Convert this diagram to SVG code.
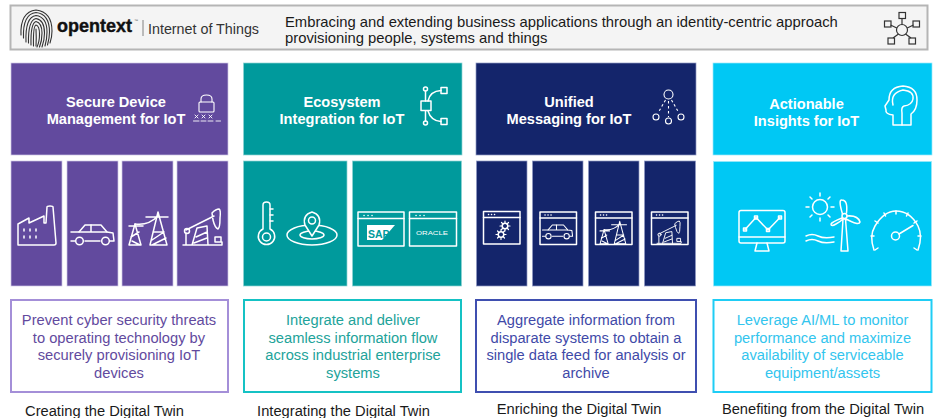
<svg xmlns="http://www.w3.org/2000/svg" xmlns:xlink="http://www.w3.org/1999/xlink" width="937" height="418" viewBox="0 0 937 418">
<style>
text{font-family:"Liberation Sans",Arial,sans-serif}
.t{font-size:14.6px;font-weight:700;fill:#fff;text-anchor:middle}
.d{font-size:14.7px;text-anchor:middle}
.c{font-size:14.7px;fill:#1a1a1a;text-anchor:middle}
.h{font-size:14.8px;fill:#1a1a1a}
.i{fill:none;stroke:#fff;stroke-width:1.5;stroke-linecap:round;stroke-linejoin:round}
.k{fill:none;stroke:#333;stroke-width:1.2}
.fp{fill:none;stroke:#333;stroke-width:1.1;stroke-linecap:round}
.p{fill:#624a9e;stroke:#cfc7e6;stroke-width:.7}
.e{fill:#009a9c;stroke:#8fd3d3;stroke-width:.7}
.n{fill:#14256b;stroke:#8f99c4;stroke-width:.7}
.y{fill:#00c8f4;stroke:#9ae9fa;stroke-width:.7}
.b{fill:#fff;stroke-width:2}
</style>
<defs>
<g id="factory"><path class="i" d="M18 245V224L29 218V223L44 216V223H46L47 207Q47 206 50 206Q53 206 53 207L56 243Q56 245 54 245Z"/><path class="i" d="M24 229v2M30 229v2M36 229v2M24 236v2M30 236v2M36 236v2"/></g>
<g id="car"><path class="i" d="M71 232H79L85 225H101L107 232L113 233L114 241H110M100 241H85M75 241H71Z"/><path class="i" d="M91 225V232M79 232H107"/><circle class="i" cx="79.500" cy="241" r="3.800"/><circle class="i" cx="105.500" cy="241" r="3.800"/></g>
<g id="towers"><path class="i" d="M129 245L135 224L141 245ZM131 237L139 232M132 241L140 245M150 245L158 212L167 245ZM153 232H164M152 240L164 232M152 245L166 238"/><path class="i" d="M129 226H143M146 217H168M135 224Q148 226 158 216"/></g>
<g id="pump"><path class="i" d="M183 245H222V242H215V237H221V242M186 245V233M186 230L214 216M212 213Q216 209 219 209Q221 210 220 218Q220 228 218 229Q215 228 213 220ZM192 245L197 228L207 226L208 245M196 237L207 232M194 243L207 238"/><circle class="i" cx="187" cy="231" r="2.500"/></g>
<g id="win"><rect class="i" width="36.500" height="32.500"/><path class="i" d="M0 6H36.500M5 3h.1M8 3h.1M11 3h.1"/></g>
<g id="gear"><circle class="i" r="2.800"/><path class="i" d="M0 -5V-3M0 5V3M-5 0H-3M5 0H3M-3.500 -3.500L-2 -2M3.500 3.500L2 2M-3.500 3.500L-2 2M3.500 -3.500L2 -2" style="stroke-width:1.2"/></g>
</defs>

<g id="header">
<rect x="10.500" y="5.500" width="917" height="44" fill="#f4f4f4" stroke="#b5b5b5" stroke-width="2"/>
<g id="fingerprint">
<path class="fp" d="M21 35Q20 12 36 10Q52 12 52 31Q52 37 50 43"/>
<path class="fp" d="M23.500 38Q22.500 14 36 12.500Q49.500 14 49.500 32Q49.500 38 47.500 45"/>
<path class="fp" d="M26 42Q25 17 36 15.500Q47 17 47 32Q47 39 45 46"/>
<path class="fp" d="M28.500 43Q28 20 36 18.500Q44.500 20 44.500 33Q44.500 40 42 47"/>
<path class="fp" d="M31 45Q30.500 23 36 21.500Q42 23 42 33Q42 41 39.500 47"/>
<path class="fp" d="M33.500 46Q33 26 36 25Q39.500 26 39.500 34Q39.500 42 37 47"/>
<path class="fp" d="M36 46Q36.500 38 36 29"/>
</g>
<text x="57" y="32" font-size="18" font-weight="700" fill="#111" stroke="#111" stroke-width=".4">opentext</text>
<text x="134" y="22" font-size="4" fill="#555">™</text>
<path d="M143 20V36" stroke="#666" stroke-width=".8"/>
<text x="148" y="34" font-size="14" fill="#333" textLength="111" lengthAdjust="spacingAndGlyphs">Internet of Things</text>
<text class="h" x="285" y="26.500">Embracing and extending business applications through an identity-centric approach</text>
<text class="h" x="285" y="43">provisioning people, systems and things</text>
<g id="network-icon">
<circle class="k" cx="902" cy="30" r="5.500"/>
<path class="k" d="M902 18.500V24.500M890.500 25L896.800 28M913.500 25L907.200 28M893 38L898.500 34M911 38L905.500 34"/>
<rect class="k" x="899" y="12.500" width="6.500" height="6"/><rect class="k" x="884.500" y="21" width="6.500" height="6"/><rect class="k" x="913" y="21" width="6.500" height="6"/><rect class="k" x="888" y="38" width="6.500" height="6"/><rect class="k" x="909" y="38" width="6.500" height="6"/>
</g>
</g>

<g id="secure-device">
<rect class="p" x="11" y="63" width="217" height="92"/>
<text class="t" x="116" y="107">Secure Device</text>
<text class="t" x="116" y="124">Management for IoT</text>
<g id="lock-icon"><rect class="i" x="199" y="102" width="15" height="10" rx="1" style="stroke-width:1.1"/><path class="i" style="stroke-width:1.1" d="M201 102V99Q201 95 206.500 95Q212 95 212 99V102"/><path class="i" style="stroke-width:.9" d="M193.500 121H199M201 121H206M208 121H213M216 121H220.500M195 115l3 3m0-3l-3 3M202 115l3 3m0-3l-3 3M209 115l3 3m0-3l-3 3"/></g>
<rect class="p" x="11" y="161" width="51" height="125"/><rect class="p" x="67" y="161" width="51" height="125"/><rect class="p" x="122" y="161" width="51" height="125"/><rect class="p" x="177" y="161" width="51" height="125"/>
<use href="#factory"/><use href="#car"/><use href="#towers"/><use href="#pump"/>
<rect class="b" x="11" y="300" width="217" height="92" stroke="#a48fd8"/>
<g fill="#624a9e"><text class="d" x="119" y="325">Prevent cyber security threats</text><text class="d" x="119" y="342.500">to operating technology by</text><text class="d" x="119" y="360">securely provisioning IoT</text><text class="d" x="119" y="378">devices</text></g>
<text class="c" x="104.500" y="415.500">Creating the Digital Twin</text>
</g>

<g id="ecosystem">
<rect class="e" x="243.500" y="63" width="218.500" height="92"/>
<text class="t" x="342" y="107">Ecosystem</text>
<text class="t" x="342" y="124">Integration for IoT</text>
<g id="integration-icon"><rect class="i" x="421" y="101" width="10" height="9.500"/><circle class="i" cx="425.500" cy="89" r="2"/><circle class="i" cx="425.500" cy="123" r="2"/><rect class="i" x="441" y="87.500" width="6" height="6"/><rect class="i" x="441" y="118.500" width="6" height="6"/><path class="i" d="M425.500 91V101M425.500 111V121M428 101Q430 91 441 90.500M428 111Q431 121 441 121.500"/></g>
<rect class="e" x="243.500" y="161" width="103.500" height="125"/><rect class="e" x="352.500" y="161" width="109" height="125"/>
<g id="thermometer"><path class="i" d="M263 229V205Q263 202 266.500 202Q270 202 270 205V229A8.200 8.200 0 1 1 263 229Z"/><circle class="i" cx="266.500" cy="237" r="4"/><path class="i" d="M270 209H273M270 215H273M270 221H273"/></g>
<g id="pin"><ellipse class="i" cx="312" cy="235" rx="25" ry="10"/><ellipse class="i" cx="312" cy="235" rx="12" ry="4"/><path class="i" style="fill:#009a9c" d="M312 236L305 225Q302 215 312 212Q322 215 319 225Z"/><circle class="i" cx="312" cy="220.500" r="3.500"/></g>
<g id="sap-window"><rect class="i" x="358" y="212" width="46" height="34"/><path class="i" d="M358 218.500H404M364 215.500h.1M368 215.500h.1M372 215.500h.1"/><path fill="#fff" d="M367 225H395L382 240H367Z"/><text x="368" y="237.500" font-size="10.500" font-weight="700" fill="#009a9c">SAP</text></g>
<g id="oracle-window"><rect class="i" x="409.500" y="212" width="47" height="34"/><path class="i" d="M409.500 218.500H456.500M416 215.500h.1M420 215.500h.1M424 215.500h.1"/><text x="416" y="235" font-size="5.500" fill="#fff" textLength="32" lengthAdjust="spacingAndGlyphs">ORACLE</text></g>
<rect class="b" x="244" y="300" width="217" height="92" stroke="#15c2c4"/>
<g fill="#22a39a"><text class="d" x="353" y="325">Integrate and deliver</text><text class="d" x="353" y="342.500">seamless information flow</text><text class="d" x="353" y="360">across industrial enterprise</text><text class="d" x="353" y="378">systems</text></g>
<text class="c" x="343.500" y="415.500">Integrating the Digital Twin</text>
</g>

<g id="unified">
<rect class="n" x="476" y="63" width="220" height="92"/>
<text class="t" x="569" y="107">Unified</text>
<text class="t" x="569" y="124">Messaging for IoT</text>
<g id="hierarchy-icon"><circle class="i" cx="668.500" cy="94.500" r="4.500" style="stroke-width:1.1"/><circle class="i" cx="656" cy="117" r="3" style="stroke-width:1.1"/><circle class="i" cx="668.500" cy="121" r="3" style="stroke-width:1.1"/><circle class="i" cx="681" cy="117" r="3" style="stroke-width:1.1"/><path class="i" style="stroke-width:1.1;stroke-linecap:butt" stroke-dasharray="2.500 2.500" d="M665.500 100L658 113M668.500 101V117M671.500 100L679 113"/></g>
<rect class="n" x="476.500" y="161" width="50.500" height="125"/><rect class="n" x="532.500" y="161" width="50.500" height="125"/><rect class="n" x="588.500" y="161" width="50.500" height="125"/><rect class="n" x="644.500" y="161" width="51" height="125"/>
<use href="#win" x="483.500" y="211.500"/><use href="#win" x="540" y="212"/><use href="#win" x="595.500" y="212"/><use href="#win" x="651.500" y="212"/>
<use href="#gear" transform="translate(505 226)"/><use href="#gear" transform="translate(501 234.500)"/>
<use href="#car" transform="translate(542.500 225) scale(.7) translate(-71 -225)"/>
<use href="#towers" transform="translate(600 220) scale(.68) translate(-129 -210)"/>
<use href="#pump" transform="translate(657 221) scale(.62) translate(-183 -209)"/>
<rect class="b" x="476" y="300" width="220" height="92" stroke="#3f4fb0"/>
<g fill="#3f4aa8"><text class="d" x="586" y="325">Aggregate information from</text><text class="d" x="586" y="342.500">disparate systems to obtain a</text><text class="d" x="586" y="360">single data feed for analysis or</text><text class="d" x="586" y="378">archive</text></g>
<text class="c" x="579" y="414">Enriching the Digital Twin</text>
</g>

<g id="actionable">
<rect class="y" x="713" y="63" width="219" height="92"/>
<text class="t" x="806.500" y="109">Actionable</text>
<text class="t" x="806.500" y="126">Insights for IoT</text>
<g id="brain-icon"><path class="i" d="M893 125V115Q885 114 886 110L885 106L889 100Q889 87 903 86Q917 87 917 100Q917 110 911 114V125Z"/><path class="i" d="M893 105Q890 93 903 90Q914 91 913 99Q912 105 904 106Q901 107 902 113V125"/></g>
<rect class="y" x="713.500" y="161.500" width="218" height="124.500"/>
<g id="monitor-icon"><rect class="i" x="739" y="210.500" width="46" height="32.500" rx="2"/><path class="i" d="M739 237H785M757 243L755 251H769L767 243M745 229.500L756 217.500L768 230L780 217.500"/><g><rect class="i" x="743.500" y="228" width="3" height="3"/><rect class="i" x="754.500" y="216" width="3" height="3"/><rect class="i" x="766.500" y="228.500" width="3" height="3"/><rect class="i" x="778.500" y="216" width="3" height="3"/></g></g>
<g id="energy-icon"><circle class="i" cx="820" cy="207" r="7.500"/><path class="i" d="M820 193V196M820 218V221M806 207H809M831 207H834M810 197L812 199M830 197L828 199M810 217L812 215M830 217L828 215"/><path class="i" d="M806 236Q812 233 818 236T834 237M806 241Q812 238 818 241T834 242"/><path class="i" d="M841 251L843 219H845.500L848 251ZM842.500 214Q838 199 842 200Q848 200 846.500 213M847 216Q858 215 860 222Q859 226 846 219M842 218Q832 222 831 224Q831 227 836 224Q840 222 843 219"/><circle class="i" cx="844.500" cy="216" r="2.500"/></g>
<g id="gauge-icon"><path class="i" d="M874 250Q869 236 875 226Q884 211 896 211Q910 211 918 226Q923 236 918 250"/><circle class="i" cx="895.500" cy="236" r="4"/><path class="i" d="M899 234L913 225.500M896 211V214M884 213L885.500 216M908 213L906.500 216M875 221L878 223M917 221L914 223M871 236H874M921 236H918M875 250L878 248M917 250L914 248"/></g>
<rect class="b" x="713.500" y="300" width="218" height="92" stroke="#1fcdf5"/>
<g fill="#33c5ee"><text class="d" x="822.500" y="325">Leverage AI/ML to monitor</text><text class="d" x="822.500" y="342.500">performance and maximize</text><text class="d" x="822.500" y="360">availability of serviceable</text><text class="d" x="822.500" y="378">equipment/assets</text></g>
<text class="c" x="823" y="414">Benefiting from the Digital Twin</text>
</g>
<g id="connectors"/>
</svg>
